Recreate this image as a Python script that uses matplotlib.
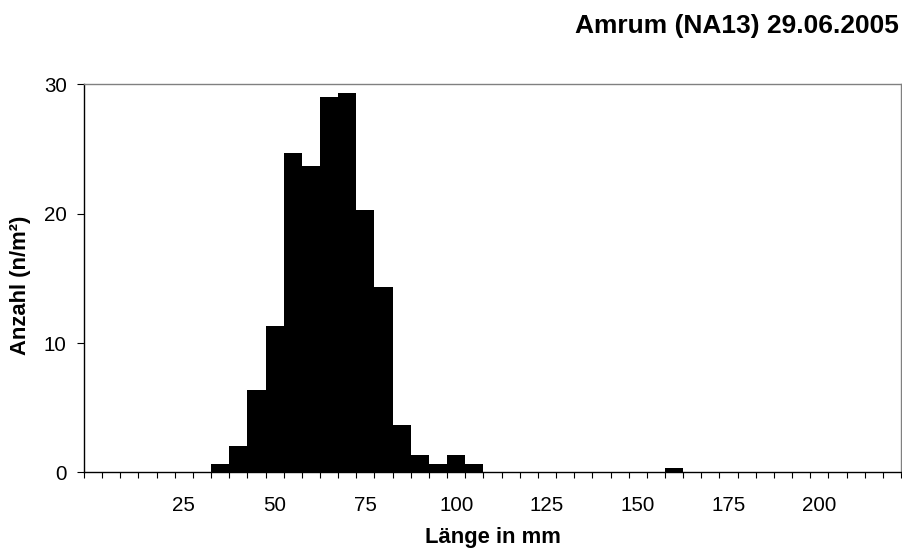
import numpy as np
import matplotlib
matplotlib.use("Agg")
import matplotlib.pyplot as plt

# Length classes (mm) and abundance per class (n/m²)
lengths = list(range(0, 225, 5))
counts_by_length = {
    35: 0.67, 40: 2.0, 45: 6.33, 50: 11.33, 55: 24.67, 60: 23.67,
    65: 29.0, 70: 29.33, 75: 20.33, 80: 14.33, 85: 3.67, 90: 1.33,
    95: 0.67, 100: 1.33, 105: 0.67, 160: 0.33,
}
counts = [counts_by_length.get(l, 0) for l in lengths]
labelled = [25, 50, 75, 100, 125, 150, 175, 200]
y_ticks = [0, 10, 20, 30]

plt.rcParams['font.family'] = ['Liberation Sans', 'DejaVu Sans']

W, H = 903, 553
fig = plt.figure(figsize=(W / 100, H / 100), dpi=100)
ax = fig.add_axes([84 / W, 1 - 472.3 / H, (901 - 84) / W, (472.3 - 84.5) / H])

idx = np.arange(len(lengths))
ax.bar(idx, counts, width=1.0, align='edge', color='black', edgecolor='none')

ax.set_xlim(0, len(lengths))
ax.set_ylim(0, 30)

# category tick marks between classes, labels at class centres
ax.set_xticks(np.arange(len(lengths) + 1), minor=True)
ax.set_xticks([lengths.index(v) + 0.5 for v in labelled])
ax.set_xticklabels([str(v) for v in labelled])
ax.tick_params(axis='x', which='minor', direction='out', length=4.5, width=0.8, color='black')
ax.tick_params(axis='x', which='major', length=0, pad=17, labelsize=14.8)

ax.set_yticks(y_ticks)
ax.tick_params(axis='y', direction='out', length=5, width=0.8, pad=7.5, labelsize=14.8)

for side in ['left', 'bottom']:
    ax.spines[side].set_color('black')
    ax.spines[side].set_linewidth(1.0)
for side in ['top', 'right']:
    ax.spines[side].set_color('#808080')
    ax.spines[side].set_linewidth(1.0)

fig.text(492.5 / W, 1 - 543 / H, "Länge in mm", ha='center', va='baseline',
         fontsize=15.8, fontweight='bold')
fig.text(21 / W, 1 - 285 / H, "Anzahl (n/m²)", ha='center', va='center',
         rotation=90, fontsize=15.8, fontweight='bold')
fig.text(899 / W, 1 - 33 / H, "Amrum (NA13) 29.06.2005", ha='right', va='baseline',
         fontsize=19, fontweight='bold')

fig.savefig("out.png", dpi=100)
